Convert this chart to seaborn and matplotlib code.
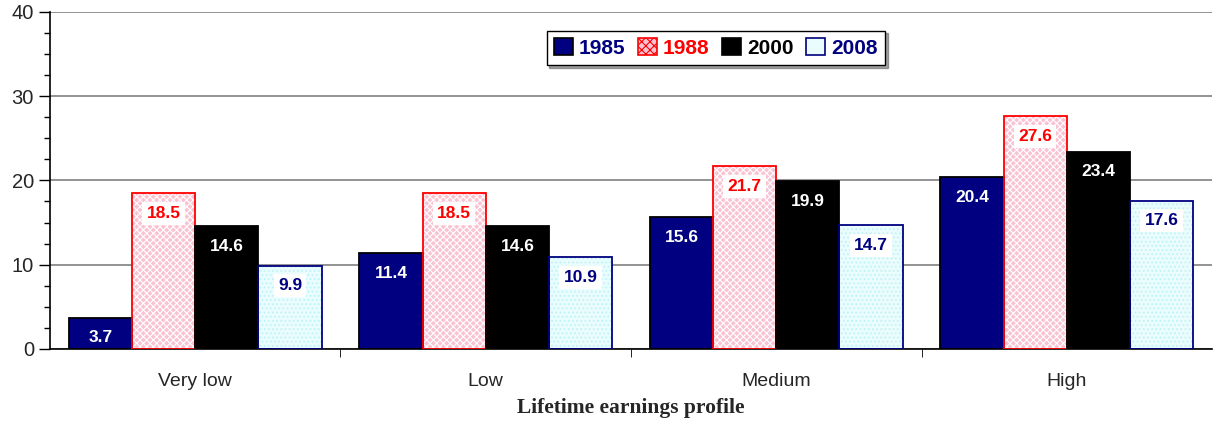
import numpy as np
import pandas as pd
import seaborn as sns
import matplotlib.pyplot as plt
from matplotlib.patches import Rectangle

profiles = ["Very low", "Low", "Medium", "High"]
years = ["1985", "1988", "2000", "2008"]
v1985 = [3.7, 11.4, 15.6, 20.4]
v1988 = [18.5, 18.5, 21.7, 27.6]
v2000 = [14.6, 14.6, 19.9, 23.4]
v2008 = [9.9, 10.9, 14.7, 17.6]

face = {"1985": "#000080", "1988": "#fac3d4", "2000": "#000000", "2008": "#eafcfd"}
edge = {"1985": "#000000", "1988": "#ff0000", "2000": "#000000", "2008": "#000080"}
txt = {"1985": "white", "1988": "#ff0000", "2000": "white", "2008": "#000080"}
legend_txt = {"1985": "#000080", "1988": "#ff0000", "2000": "#000000", "2008": "#000080"}

df = pd.DataFrame({
    "profile": profiles * 4,
    "year": np.repeat(years, 4),
    "value": v1985 + v1988 + v2000 + v2008,
})

sns.set_style("white")
plt.rcParams["font.family"] = ["Liberation Sans", "DejaVu Sans"]
plt.rcParams["hatch.linewidth"] = 0.8

fig = plt.figure(figsize=(12.13, 4.23), dpi=100)
ax = fig.add_axes([0.0412, 0.175, 0.958, 0.797])

sns.barplot(data=df, x="profile", y="value", hue="year", order=profiles,
            hue_order=years, palette=face, width=0.87, ax=ax, legend=False,
            saturation=1)

for yr, cont in zip(years, ax.containers):
    for p in cont.patches:
        p.set_facecolor(face[yr])
        p.set_linewidth(0)
        if yr == "1988":
            p.set_hatch("xxxxx")
            p.set_edgecolor("white")
        elif yr == "2008":
            p.set_hatch("....")
            p.set_edgecolor("#bdf3f6")
        ax.add_patch(Rectangle((p.get_x(), p.get_y()), p.get_width(), p.get_height(),
                               fill=False, edgecolor=edge[yr], linewidth=1.3, zorder=3))
        box = None
        if yr in ("1988", "2008"):
            box = dict(facecolor="white", edgecolor="none", pad=3)
        ax.annotate(f"{p.get_height():.1f}",
                    (p.get_x() + p.get_width() / 2, p.get_height()),
                    xytext=(0, -14.5), textcoords="offset points",
                    ha="center", va="center", fontsize=12.5, fontweight="bold",
                    color=txt[yr], bbox=box, zorder=4)

ax.set_ylim(0, 40)
ax.set_xlim(-0.5, 3.5)
ax.set_yticks([0, 10, 20, 30, 40])
ax.set_yticks(np.arange(0, 40, 2.5), minor=True)
ax.yaxis.grid(True, color="#808080", linewidth=1.2)
ax.set_axisbelow(True)
ax.tick_params(axis="y", which="major", length=8, width=1, left=True, labelsize=14.5, color="black")
ax.tick_params(axis="y", which="minor", length=4, width=1, left=True, color="black")
ax.set_xticks([0.5, 1.5, 2.5], minor=True)
ax.tick_params(axis="x", which="minor", length=6, bottom=True, color="black")
ax.tick_params(axis="x", which="major", length=0, labelsize=14, pad=17)
for s in ["top", "right"]:
    ax.spines[s].set_visible(False)
for s in ["left", "bottom"]:
    ax.spines[s].set_color("black")
    ax.spines[s].set_linewidth(1.2)

ax.set_ylabel("")
ax.set_xlabel("Lifetime earnings profile", family=["Liberation Serif", "DejaVu Serif"],
              fontweight="bold", fontsize=15.5, labelpad=6)

handles = []
for yr in years:
    h = Rectangle((0, 0), 1, 1, facecolor=face[yr], edgecolor=edge[yr], linewidth=1.2,
                  hatch="xxxx" if yr == "1988" else None)
    handles.append(h)
leg = ax.legend(handles, years, loc="upper center", bbox_to_anchor=(0.573, 0.975), ncol=4,
                frameon=True, fancybox=False, shadow=True, handlelength=0.9, handleheight=0.9,
                handletextpad=0.3, columnspacing=0.6, borderpad=0.35,
                prop={"size": 15, "weight": "bold"})
leg.get_frame().set_edgecolor("black")
leg.get_frame().set_linewidth(1)
for t, yr in zip(leg.get_texts(), years):
    t.set_color(legend_txt[yr])

fig.savefig("out.png", dpi=100)
